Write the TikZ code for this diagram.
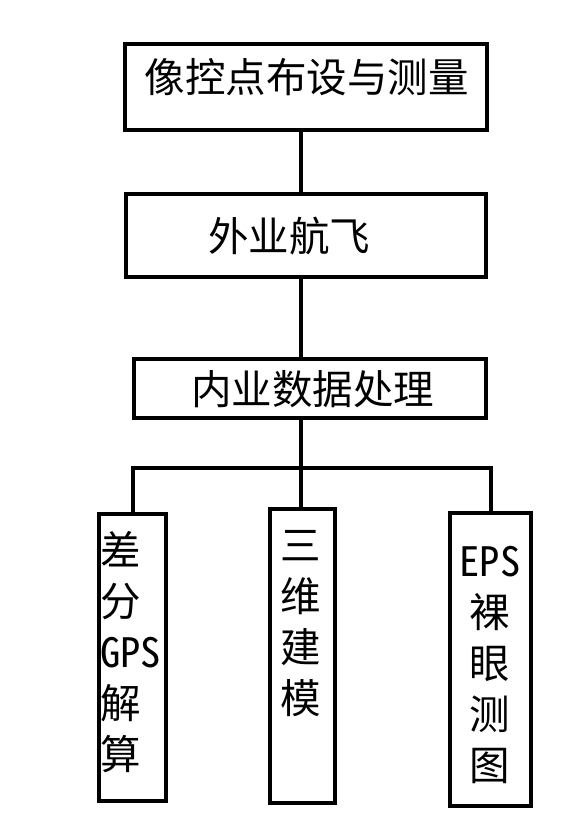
\documentclass[tikz,border=0pt]{standalone}
\usepackage{fontspec}
\newfontfamily\cjk{Noto Sans CJK SC}
\newfontfamily\cjkhw[RawFeature=+hwid]{Noto Sans CJK SC}
\begin{document}
\begin{tikzpicture}[x=1pt,y=-1pt,
  box/.style={draw=black, line width=4pt, fill=white, inner sep=0pt},
  link/.style={draw=black, line width=4pt},
  txt/.style={inner sep=0pt, font=\cjk\fontsize{40.5}{51}\selectfont},
  vtxt/.style={txt, align=center}]
\useasboundingbox (0,0) rectangle (582,817);
% top boxes
\node[box, minimum width=362pt, minimum height=86pt] (b1) at (306,87) {};
\node[box, minimum width=360pt, minimum height=83pt] (b2) at (306,235.5) {};
\node[box, minimum width=352pt, minimum height=59pt] (b3) at (310,388.5) {};
% bottom boxes
\node[box, minimum width=67pt, minimum height=287pt] (b4) at (132.5,657.5) {};
\node[box, minimum width=65pt, minimum height=294pt] (b5) at (302.5,656) {};
\node[box, minimum width=81pt, minimum height=293pt] (b6) at (490.5,659.5) {};
% texts
\node[txt] (t1) at (306.5,77.5) {像控点布设与测量};
\node[txt] (t2) at (289,236) {外业航飞};
\node[txt] (t3) at (312.5,389.5) {内业数据处理};
\node[txt, align=left, anchor=west] (t4) at (100,652.5) {差\\分\\{\cjkhw GPS}\\解\\算};
\node[vtxt] (t5) at (301,623.5) {三\\维\\建\\模};
\node[vtxt] (t6) at (490,665) {{\cjkhw EPS}\\裸\\眼\\测\\图};
% connectors
\coordinate (tx) at (301,0);
\coordinate (jl) at (132.5,468);
\coordinate (jr) at (490.5,468);
\draw[link] (b1.south -| tx) -- (b2.north -| tx);
\draw[link] (b2.south -| tx) -- (b3.north -| tx);
\draw[link] (b3.south -| tx) -- (tx |- jl);
\draw[link, line cap=rect] (jl) -- (jr);
\draw[link] (jl) -- (b4.north -| jl);
\draw[link] (tx |- jl) -- (b5.north -| tx);
\draw[link] (jr) -- (b6.north -| jr);
\end{tikzpicture}
\end{document}
